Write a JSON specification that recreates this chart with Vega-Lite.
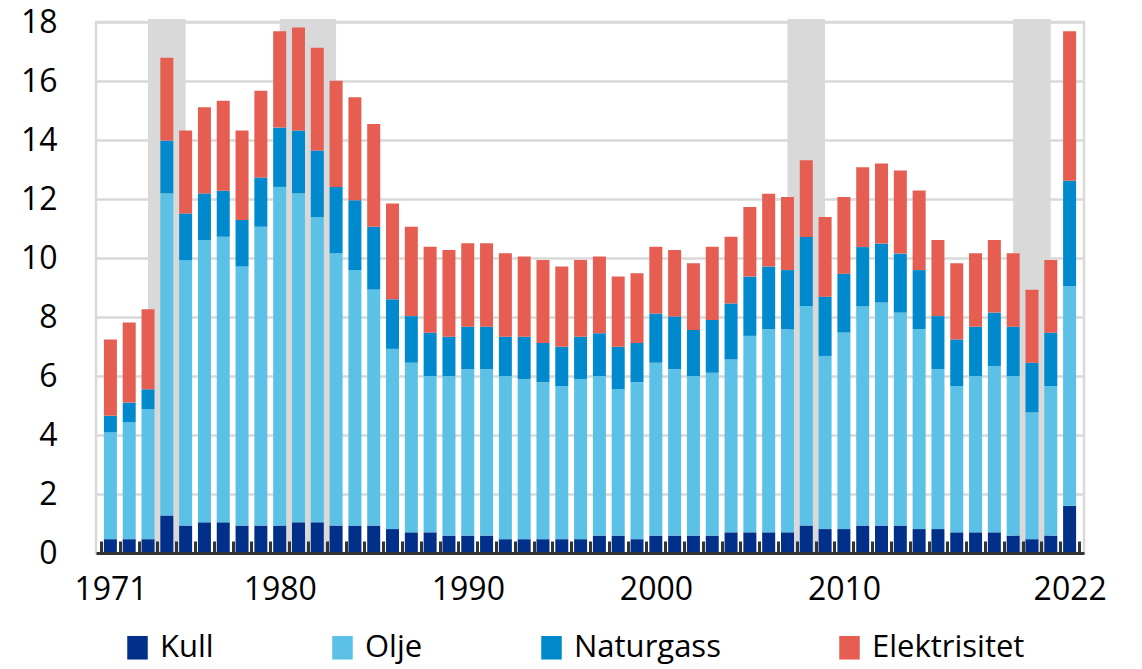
{
  "$schema": "https://vega.github.io/schema/vega-lite/v6.json",
  "width": 988,
  "height": 531,
  "autosize": {"type": "none"},
  "padding": {"left": 96, "top": 22, "right": 58, "bottom": 116},
  "background": "white",
  "config": {
    "font": "Open Sans",
    "view": {"stroke": "#d9d9d9", "strokeWidth": 2.5},
    "axis": {"labelFont": "Open Sans", "labelColor": "#000000"},
    "axisY": {
      "title": null,
      "labelFontSize": 32,
      "labelPadding": 39,
      "ticks": false,
      "domain": false,
      "grid": true,
      "gridColor": "#d9d9d9",
      "gridWidth": 2.5
    },
    "legend": {"labelFont": "Open Sans"}
  },
  "datasets": {
    "energy": [
      {"year": 1971, "Kull": 0.47, "Olje": 3.62, "Naturgass": 0.56, "Elektrisitet": 2.59},
      {"year": 1972, "Kull": 0.47, "Olje": 3.96, "Naturgass": 0.67, "Elektrisitet": 2.71},
      {"year": 1973, "Kull": 0.47, "Olje": 4.41, "Naturgass": 0.67, "Elektrisitet": 2.71},
      {"year": 1974, "Kull": 1.27, "Olje": 10.92, "Naturgass": 1.79, "Elektrisitet": 2.81},
      {"year": 1975, "Kull": 0.93, "Olje": 9.0, "Naturgass": 1.58, "Elektrisitet": 2.81},
      {"year": 1976, "Kull": 1.04, "Olje": 9.57, "Naturgass": 1.58, "Elektrisitet": 2.92},
      {"year": 1977, "Kull": 1.04, "Olje": 9.68, "Naturgass": 1.56, "Elektrisitet": 3.05},
      {"year": 1978, "Kull": 0.93, "Olje": 8.78, "Naturgass": 1.58, "Elektrisitet": 3.03},
      {"year": 1979, "Kull": 0.93, "Olje": 10.13, "Naturgass": 1.67, "Elektrisitet": 2.94},
      {"year": 1980, "Kull": 0.93, "Olje": 11.48, "Naturgass": 2.01, "Elektrisitet": 3.27},
      {"year": 1981, "Kull": 1.04, "Olje": 11.15, "Naturgass": 2.13, "Elektrisitet": 3.49},
      {"year": 1982, "Kull": 1.04, "Olje": 10.35, "Naturgass": 2.25, "Elektrisitet": 3.49},
      {"year": 1983, "Kull": 0.93, "Olje": 9.23, "Naturgass": 2.25, "Elektrisitet": 3.6},
      {"year": 1984, "Kull": 0.93, "Olje": 8.66, "Naturgass": 2.37, "Elektrisitet": 3.49},
      {"year": 1985, "Kull": 0.93, "Olje": 8.0, "Naturgass": 2.13, "Elektrisitet": 3.48},
      {"year": 1986, "Kull": 0.81, "Olje": 6.11, "Naturgass": 1.68, "Elektrisitet": 3.25},
      {"year": 1987, "Kull": 0.7, "Olje": 5.75, "Naturgass": 1.58, "Elektrisitet": 3.03},
      {"year": 1988, "Kull": 0.7, "Olje": 5.3, "Naturgass": 1.47, "Elektrisitet": 2.91},
      {"year": 1989, "Kull": 0.59, "Olje": 5.41, "Naturgass": 1.33, "Elektrisitet": 2.94},
      {"year": 1990, "Kull": 0.59, "Olje": 5.64, "Naturgass": 1.44, "Elektrisitet": 2.83},
      {"year": 1991, "Kull": 0.59, "Olje": 5.64, "Naturgass": 1.44, "Elektrisitet": 2.83},
      {"year": 1992, "Kull": 0.47, "Olje": 5.53, "Naturgass": 1.33, "Elektrisitet": 2.83},
      {"year": 1993, "Kull": 0.47, "Olje": 5.43, "Naturgass": 1.43, "Elektrisitet": 2.72},
      {"year": 1994, "Kull": 0.47, "Olje": 5.32, "Naturgass": 1.33, "Elektrisitet": 2.81},
      {"year": 1995, "Kull": 0.47, "Olje": 5.19, "Naturgass": 1.33, "Elektrisitet": 2.72},
      {"year": 1996, "Kull": 0.47, "Olje": 5.43, "Naturgass": 1.43, "Elektrisitet": 2.6},
      {"year": 1997, "Kull": 0.59, "Olje": 5.41, "Naturgass": 1.45, "Elektrisitet": 2.6},
      {"year": 1998, "Kull": 0.59, "Olje": 4.97, "Naturgass": 1.43, "Elektrisitet": 2.38},
      {"year": 1999, "Kull": 0.47, "Olje": 5.32, "Naturgass": 1.33, "Elektrisitet": 2.36},
      {"year": 2000, "Kull": 0.59, "Olje": 5.86, "Naturgass": 1.67, "Elektrisitet": 2.26},
      {"year": 2001, "Kull": 0.59, "Olje": 5.64, "Naturgass": 1.79, "Elektrisitet": 2.25},
      {"year": 2002, "Kull": 0.59, "Olje": 5.41, "Naturgass": 1.56, "Elektrisitet": 2.26},
      {"year": 2003, "Kull": 0.59, "Olje": 5.52, "Naturgass": 1.79, "Elektrisitet": 2.48},
      {"year": 2004, "Kull": 0.7, "Olje": 5.86, "Naturgass": 1.9, "Elektrisitet": 2.26},
      {"year": 2005, "Kull": 0.7, "Olje": 6.66, "Naturgass": 2.01, "Elektrisitet": 2.36},
      {"year": 2006, "Kull": 0.7, "Olje": 6.88, "Naturgass": 2.13, "Elektrisitet": 2.47},
      {"year": 2007, "Kull": 0.7, "Olje": 6.88, "Naturgass": 2.01, "Elektrisitet": 2.48},
      {"year": 2008, "Kull": 0.93, "Olje": 7.44, "Naturgass": 2.34, "Elektrisitet": 2.6},
      {"year": 2009, "Kull": 0.81, "Olje": 5.87, "Naturgass": 2.01, "Elektrisitet": 2.7},
      {"year": 2010, "Kull": 0.81, "Olje": 6.66, "Naturgass": 2.0, "Elektrisitet": 2.6},
      {"year": 2011, "Kull": 0.93, "Olje": 7.44, "Naturgass": 2.0, "Elektrisitet": 2.71},
      {"year": 2012, "Kull": 0.93, "Olje": 7.56, "Naturgass": 2.0, "Elektrisitet": 2.71},
      {"year": 2013, "Kull": 0.93, "Olje": 7.22, "Naturgass": 2.0, "Elektrisitet": 2.82},
      {"year": 2014, "Kull": 0.81, "Olje": 6.77, "Naturgass": 2.01, "Elektrisitet": 2.7},
      {"year": 2015, "Kull": 0.81, "Olje": 5.42, "Naturgass": 1.8, "Elektrisitet": 2.58},
      {"year": 2016, "Kull": 0.7, "Olje": 4.96, "Naturgass": 1.58, "Elektrisitet": 2.58},
      {"year": 2017, "Kull": 0.7, "Olje": 5.3, "Naturgass": 1.67, "Elektrisitet": 2.49},
      {"year": 2018, "Kull": 0.7, "Olje": 5.64, "Naturgass": 1.81, "Elektrisitet": 2.46},
      {"year": 2019, "Kull": 0.59, "Olje": 5.41, "Naturgass": 1.67, "Elektrisitet": 2.49},
      {"year": 2020, "Kull": 0.47, "Olje": 4.3, "Naturgass": 1.68, "Elektrisitet": 2.47},
      {"year": 2021, "Kull": 0.59, "Olje": 5.07, "Naturgass": 1.81, "Elektrisitet": 2.46},
      {"year": 2022, "Kull": 1.6, "Olje": 7.44, "Naturgass": 3.58, "Elektrisitet": 5.07}
    ],
    "kilder": [
      {"kilde": "Kull", "nr": 1},
      {"kilde": "Olje", "nr": 2},
      {"kilde": "Naturgass", "nr": 3},
      {"kilde": "Elektrisitet", "nr": 4}
    ],
    "shading": [
      {"year": 1973, "end": 1975},
      {"year": 1980, "end": 1983},
      {"year": 2007, "end": 2009},
      {"year": 2019, "end": 2021}
    ]
  },
  "encoding": {
    "x": {
      "field": "year",
      "type": "quantitative",
      "scale": {"domain": [1970.5, 2022.5], "nice": false, "zero": false},
      "axis": {
        "title": null,
        "values": [1970.5, 1971.5, 1972.5, 1973.5, 1974.5, 1975.5, 1976.5, 1977.5, 1978.5, 1979.5, 1980.5, 1981.5, 1982.5, 1983.5, 1984.5, 1985.5, 1986.5, 1987.5, 1988.5, 1989.5, 1990.5, 1991.5, 1992.5, 1993.5, 1994.5, 1995.5, 1996.5, 1997.5, 1998.5, 1999.5, 2000.5, 2001.5, 2002.5, 2003.5, 2004.5, 2005.5, 2006.5, 2007.5, 2008.5, 2009.5, 2010.5, 2011.5, 2012.5, 2013.5, 2014.5, 2015.5, 2016.5, 2017.5, 2018.5, 2019.5, 2020.5, 2021.5, 2022.5],
        "labelExpr": "(datum.value == 1970.5 || datum.value == 1979.5 || datum.value == 1989.5 || datum.value == 1999.5 || datum.value == 2009.5 || datum.value == 2021.5) ? format(datum.value + 0.5, 'd') : ''",
        "labelOffset": 9.5,
        "labelOverlap": false,
        "labelFlush": false,
        "labelBound": false,
        "labelFontSize": 32,
        "labelPadding": 33,
        "tickSize": -12,
        "tickWidth": 3,
        "tickColor": "#333333",
        "domainColor": "#333333",
        "domainWidth": 3,
        "grid": false,
        "zindex": 1
      }
    }
  },
  "layer": [
    {
      "data": {"name": "shading"},
      "mark": {"type": "rect", "color": "#d9d9d9"},
      "encoding": {
        "x2": {"field": "end"},
        "y": {"datum": 0, "type": "quantitative", "scale": {"domain": [0, 18], "nice": false}, "axis": {"values": [0, 2, 4, 6, 8, 10, 12, 14, 16, 18]}},
        "y2": {"datum": 18.1}
      }
    },
    {
      "data": {"name": "energy"},
      "transform": [
        {"fold": ["Kull", "Olje", "Naturgass", "Elektrisitet"], "as": ["kilde", "verdi"]},
        {"lookup": "kilde", "from": {"data": {"name": "kilder"}, "key": "kilde", "fields": ["nr"]}}
      ],
      "mark": {"type": "bar", "width": 13},
      "encoding": {
        "y": {
          "field": "verdi",
          "type": "quantitative",
          "stack": "zero",
          "scale": {"domain": [0, 18], "nice": false},
          "axis": {"values": [0, 2, 4, 6, 8, 10, 12, 14, 16, 18]}
        },
        "color": {
          "field": "kilde",
          "type": "nominal",
          "sort": ["Kull", "Olje", "Naturgass", "Elektrisitet"],
          "scale": {
            "domain": ["Kull", "Olje", "Naturgass", "Elektrisitet"],
            "range": ["#00308a", "#5bc1e6", "#0089cc", "#e55e51"]
          },
          "legend": {
            "title": null,
            "orient": "none",
            "direction": "horizontal",
            "legendX": 26,
            "legendY": 610,
            "padding": 0,
            "columnPadding": 113,
            "labelFontSize": 31,
            "labelColor": "#000000",
            "labelOffset": 7,
            "symbolType": "M-1,-1.15H1V1.15H-1Z",
            "symbolSize": 420,
            "symbolStrokeWidth": 0,
            "symbolOpacity": 1
          }
        },
        "order": {"field": "nr", "type": "quantitative", "sort": "ascending"}
      }
    }
  ]
}
